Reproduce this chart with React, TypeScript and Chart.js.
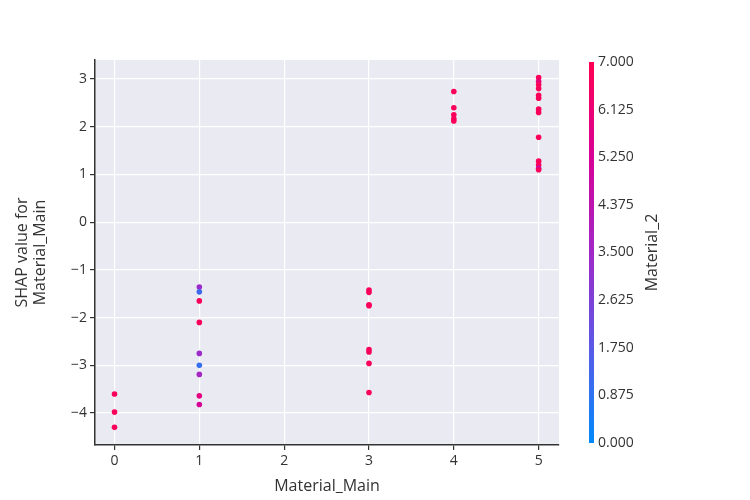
import { useEffect, useRef } from 'react';
import { Chart, registerables } from 'chart.js';

Chart.register(...registerables);

const X_VALUES = [0, 0, 0, 1, 1, 1, 1, 1, 1, 1, 1, 1, 3, 3, 3, 3, 3, 3, 3, 3, 4, 4, 4, 4, 4, 5, 5, 5, 5, 5, 5, 5, 5, 5, 5, 5, 5, 5];
const SHAP_VALUES = [-3.6, -3.98, -4.3, -1.36, -1.46, -1.65, -2.1, -2.75, -3.0, -3.19, -3.64, -3.82, -1.42, -1.47, -1.73, -1.75, -2.67, -2.72, -2.96, -3.57, 2.74, 2.4, 2.25, 2.17, 2.12, 3.03, 2.95, 2.88, 2.8, 2.66, 2.6, 2.37, 2.3, 1.78, 1.28, 1.2, 1.13, 1.1];
const MATERIAL_2 = [6.8, 6.8, 6.8, 3.4, 1.2, 6.8, 6.8, 3.4, 1.0, 3.6, 5.8, 5.2, 6.8, 6.8, 6.8, 6.8, 6.8, 6.8, 6.8, 6.8, 6.8, 6.8, 6.8, 6.8, 6.8, 6.8, 6.0, 6.8, 6.8, 6.8, 6.8, 6.8, 6.8, 6.8, 6.8, 6.8, 4.5, 6.8];
const COLORBAR_TICKS = ['0.000', '0.875', '1.750', '2.625', '3.500', '4.375', '5.250', '6.125', '7.000'];

const STOPS: [number, number, number][] = [
  [0, 138, 251],
  [90, 90, 230],
  [160, 40, 200],
  [215, 0, 150],
  [255, 0, 82],
];

function colorFor(v: number) {
  const t = Math.max(0, Math.min(1, v / 7)) * (STOPS.length - 1);
  const i = Math.min(STOPS.length - 2, Math.floor(t));
  const f = t - i;
  const a = STOPS[i], b = STOPS[i + 1];
  const c = a.map((x, k) => Math.round(x + (b[k] - x) * f));
  return `rgb(${c[0]},${c[1]},${c[2]})`;
}

const FONT = "'Open Sans', 'DejaVu Sans', sans-serif";

const colorbar = {
  id: 'colorbar',
  beforeDraw(chart: Chart) {
    const { ctx, chartArea: a } = chart;
    ctx.save();
    ctx.fillStyle = '#eaeaf2';
    ctx.fillRect(a.left, a.top, a.right - a.left, a.bottom - a.top);
    ctx.restore();
  },
  afterDraw(chart: Chart) {
    const ctx = chart.ctx;
    const x = 589, w = 5, top = 62, bottom = 443;
    const g = ctx.createLinearGradient(0, bottom, 0, top);
    STOPS.forEach((s, i) => g.addColorStop(i / (STOPS.length - 1), `rgb(${s[0]},${s[1]},${s[2]})`));
    ctx.save();
    ctx.fillStyle = g;
    ctx.fillRect(x, top, w, bottom - top);
    ctx.fillStyle = '#333';
    ctx.font = `14px ${FONT}`;
    ctx.textBaseline = 'middle';
    COLORBAR_TICKS.forEach((t, i) => {
      const y = bottom - (i / (COLORBAR_TICKS.length - 1)) * (bottom - top);
      ctx.fillText(t, 598, y);
    });
    ctx.translate(652, (top + bottom) / 2);
    ctx.rotate(-Math.PI / 2);
    ctx.textAlign = 'center';
    ctx.font = `16px ${FONT}`;
    ctx.fillText('Material_2', 0, 0);
    ctx.restore();
  },
};

export default function App() {
  const ref = useRef<HTMLCanvasElement>(null);

  useEffect(() => {
    if (!ref.current) return;
    const chart = new Chart(ref.current, {
      type: 'scatter',
      data: {
        datasets: [
          {
            data: X_VALUES.map((x, i) => ({ x, y: SHAP_VALUES[i] })),
            backgroundColor: MATERIAL_2.map(colorFor),
            borderWidth: 0,
            pointRadius: 2.8,
          },
        ],
      },
      options: {
        animation: false,
        responsive: false,
        layout: { padding: { top: 60, right: 191, left: 14, bottom: 4 } },
        plugins: { legend: { display: false }, tooltip: { enabled: false } },
        scales: {
          x: {
            min: -0.23,
            max: 5.24,
            afterFit: (s: any) => { s.height = 51; },
            afterBuildTicks: (s: any) => { s.ticks = [0, 1, 2, 3, 4, 5].map((v) => ({ value: v })); },
            ticks: { color: '#333', font: { size: 14, family: FONT } },
            grid: { color: '#fff', lineWidth: 1.2, tickColor: '#333', tickLength: 5 },
            border: { color: '#333', width: 1.5 },
            title: { display: true, text: 'Material_Main', color: '#333', font: { size: 16, family: FONT }, padding: 0 },
          },
          y: {
            min: -4.67,
            max: 3.4,
            afterFit: (s: any) => { s.width = 81; },
            afterBuildTicks: (s: any) => { s.ticks = [-4, -3, -2, -1, 0, 1, 2, 3].map((v) => ({ value: v })); },
            ticks: {
              color: '#333',
              font: { size: 14, family: FONT },
              callback: (v: any) => (Number(v) < 0 ? '\u2212' + Math.abs(Number(v)) : String(v)),
            },
            grid: { color: '#fff', lineWidth: 1.2, tickColor: '#333', tickLength: 5 },
            border: { color: '#333', width: 1.5 },
            title: { display: true, text: ['SHAP value for', 'Material_Main'], color: '#333', font: { size: 16, family: FONT, lineHeight: 1.1 }, padding: 0 },
          },
        },
      },
      plugins: [colorbar],
    });
    return () => chart.destroy();
  }, []);

  return (
    <div style={{ position: 'fixed', left: 0, top: 0, width: 750, height: 500, background: '#fff' }}>
      <canvas ref={ref} width={750} height={500} style={{ width: 750, height: 500 }} />
    </div>
  );
}
